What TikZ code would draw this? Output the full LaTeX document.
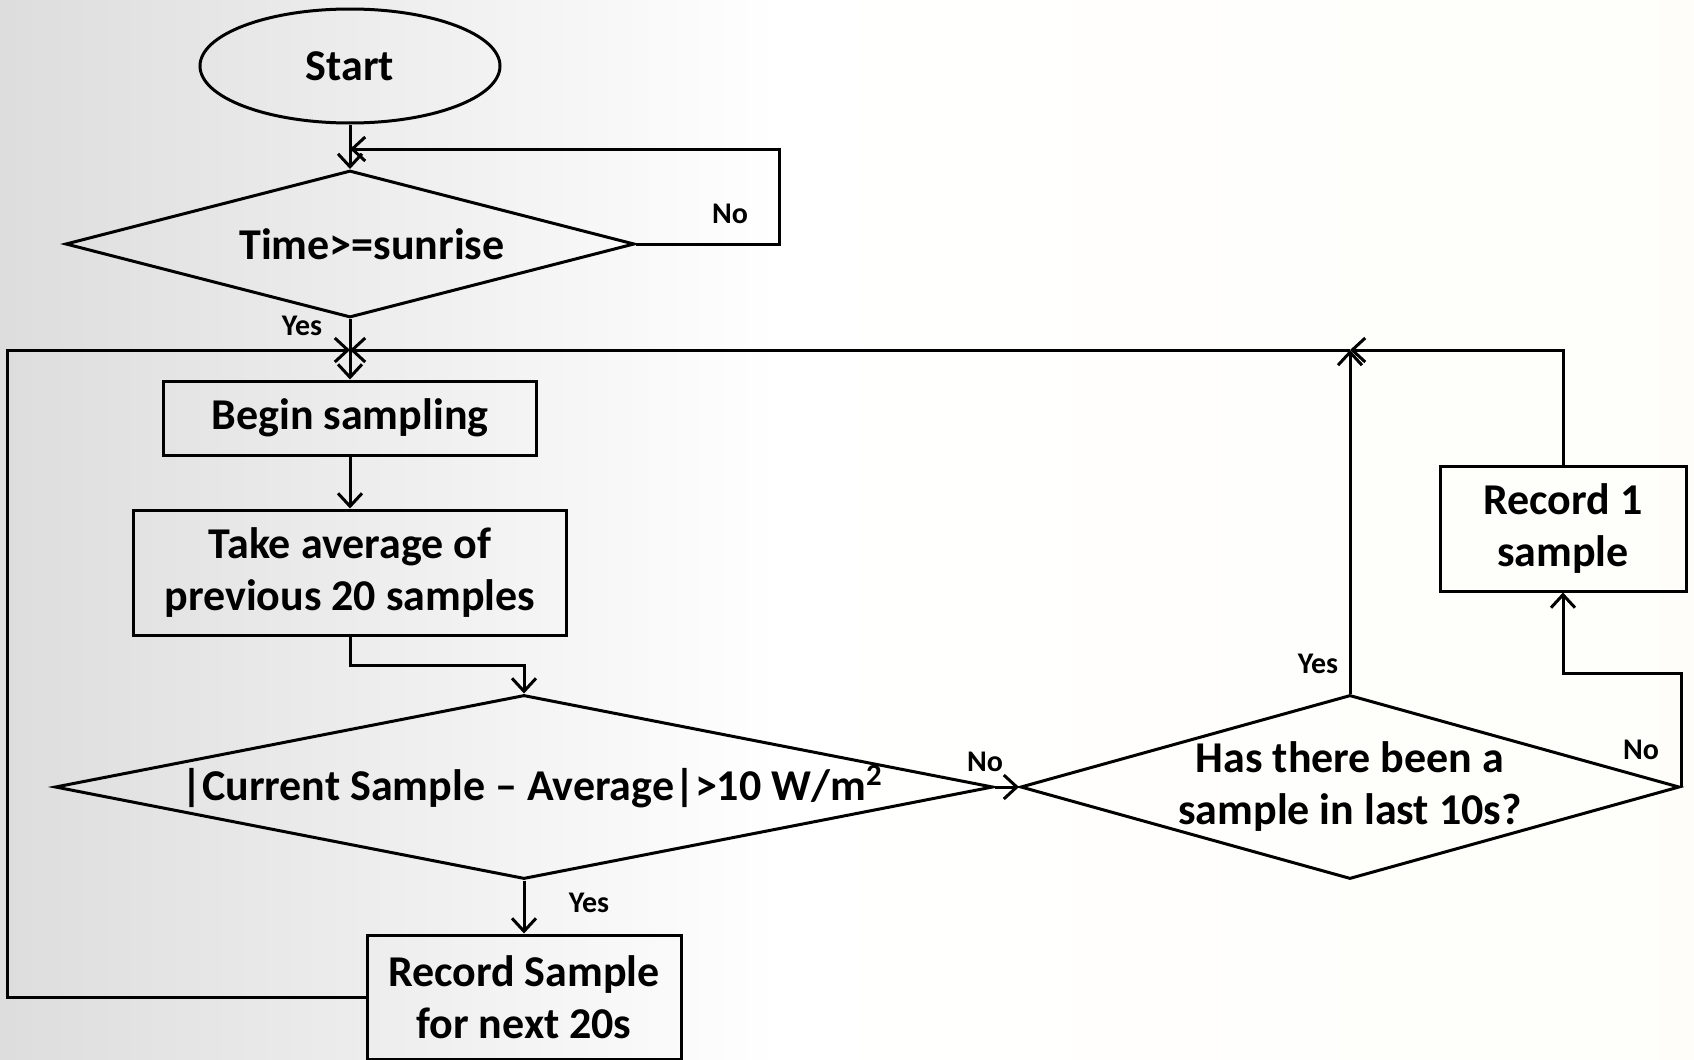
\documentclass[tikz,border=0pt]{standalone}
\usepackage{fontspec}
\setmainfont{Carlito}
\usetikzlibrary{shapes,arrows.meta}
\definecolor{bgcream}{HTML}{FDFCF4}
\pgfdeclarehorizontalshading{slidebg}{100bp}{color(0bp)=(black!28); color(48bp)=(white); color(100bp)=(bgcream)}

\begin{document}
\begin{tikzpicture}[x=1pt, y=1pt, line width=1.5pt,
                    font=\fontsize{22}{26}\selectfont\bfseries,
                    >={Straight Barb[length=6.5pt,width=12pt]},
                    process/.style={rectangle, draw, align=center, inner sep=0pt},
                    decision/.style={diamond, draw, inner sep=0pt},
                    answer/.style={font=\fontsize{15}{17}\selectfont\bfseries}]
                    \shade[shading=slidebg] (0,0) rectangle (847,-530);
                    \useasboundingbox (0,0) rectangle (847,-530);

                    \node[ellipse, draw, minimum width=150pt, minimum height=57pt] (start) at (175,-33) {Start};
                    \node[decision, aspect=3.87, minimum width=284.5pt, minimum height=73.5pt] (sunrise) at (175,-122) {\hspace*{22pt}Time>=sunrise};
                    \node[process, minimum width=186.5pt, minimum height=37pt] (begin) at (175,-209) {Begin sampling};
                    \node[process, minimum width=216.5pt, minimum height=62.5pt] (average) at (175,-286.25) {Take average of\\previous 20 samples};
                    \node[decision, aspect=5.1, minimum width=469pt, minimum height=92pt] (change) at (262,-393.5) {\hspace*{8pt}|Current Sample -- Average|>10 W/m\textsuperscript{2}};
                    \node[decision, aspect=3.58, minimum width=329.5pt, minimum height=92pt, label={[align=center]center:Has there been a\\sample in last 10s?}] (recent) at (675,-393.5) {};
                    \node[process, minimum width=123pt, minimum height=62.5pt] (single) at (781.5,-264.25) {Record 1\\sample};
                    \node[process, minimum width=157pt, minimum height=62pt] (burst) at (262,-498.5) {Record Sample\\for next 20s};

                    \coordinate (wait) at (175,-74.5);
                    \coordinate (merge) at (175,-175);
                    \coordinate (rejoin) at (675,-175);

                    \draw[->] (start) -- (sunrise);
                    \draw[->] (sunrise.east) -- ++(71.75,0) |- (wait);
                    \draw[->] (sunrise) -- (begin);
                    \draw[->] (begin) -- (average);
                    \draw[->] (average.south) -- ++(0,-14.5) -| (change.north);
                    \draw[->] (change.east) -- (recent.west);
                    \draw[->] (change) -- (burst);
                    \draw[->] (burst.west) -- ++(-179,0) |- (merge);
                    \draw[->] (recent) -- (rejoin);
                    \draw[->] (recent.east) -- ++(0,57) -| (single.south);
                    \draw[->] (single.north) |- (rejoin);
                    \draw[->] (rejoin) -- (merge);

                    \node[answer] (no1) at (365,-107) {No};
                    \node[answer] (yes1) at (151,-163) {Yes};
                    \node[answer] (no2) at (492.5,-381) {No};
                    \node[answer] (yes2) at (294.5,-451.5) {Yes};
                    \node[answer] (yes3) at (659,-332) {Yes};
                    \node[answer] (no3) at (820.5,-375) {No};
\end{tikzpicture}
\end{document}
